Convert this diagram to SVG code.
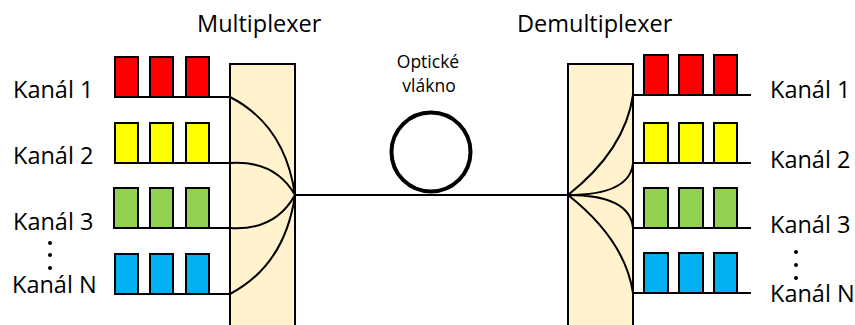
<svg xmlns="http://www.w3.org/2000/svg" width="855" height="325" viewBox="0 0 855 325">
<style>
.t{font-family:"Open Sans","Liberation Sans",sans-serif;font-size:23.5px;fill:#000}
.s{font-size:17.5px}
.box{stroke:#000;stroke-width:2}
.r{fill:#FF0000}.y{fill:#FFFF00}.g{fill:#92D050}.b{fill:#00B0F0}
.mux{fill:#FFF2CC;stroke:#000;stroke-width:2}
.ln{fill:none;stroke:#000;stroke-width:2}
.dot{fill:#000}
</style>
<rect width="855" height="325" fill="#fff"/>
<g id="multiplexer">
<rect class="mux" x="230" y="64" width="65" height="270"/>
<text class="t" x="197" y="32">Multiplexer</text>
</g>
<g id="demultiplexer">
<rect class="mux" x="568" y="64" width="65" height="270"/>
<text class="t" x="517" y="32">Demultiplexer</text>
</g>
<g id="fiber">
<circle cx="431" cy="152" r="39.5" fill="none" stroke="#000" stroke-width="4"/>
<text class="t s" x="428" y="68" text-anchor="middle">Optické</text>
<text class="t s" x="429" y="92" text-anchor="middle">vlákno</text>
</g>
<g id="in-ch1">
<rect class="box r" x="115" y="57" width="23" height="40"/>
<rect class="box r" x="150" y="57" width="23" height="40"/>
<rect class="box r" x="186" y="57" width="23" height="40"/>
<text class="t" x="13" y="98">Kanál 1</text>
</g>
<g id="in-ch2">
<rect class="box y" x="115" y="123" width="23" height="40"/>
<rect class="box y" x="150" y="123" width="23" height="40"/>
<rect class="box y" x="186" y="123" width="23" height="40"/>
<text class="t" x="13" y="164">Kanál 2</text>
</g>
<g id="in-ch3">
<rect class="box g" x="114" y="188" width="24" height="40"/>
<rect class="box g" x="150" y="188" width="23" height="40"/>
<rect class="box g" x="186" y="188" width="23" height="40"/>
<text class="t" x="13" y="230">Kanál 3</text>
</g>
<g id="in-chN">
<rect class="box b" x="115" y="254" width="23" height="40"/>
<rect class="box b" x="150" y="254" width="23" height="40"/>
<rect class="box b" x="186" y="254" width="23" height="40"/>
<circle class="dot" cx="50" cy="243" r="2"/>
<circle class="dot" cx="50" cy="255" r="2"/>
<circle class="dot" cx="50" cy="268" r="2"/>
<text class="t" x="12" y="293">Kanál N</text>
</g>
<g id="out-ch1">
<rect class="box r" x="644" y="55" width="24" height="40"/>
<rect class="box r" x="679" y="55" width="24" height="40"/>
<rect class="box r" x="714" y="55" width="23" height="40"/>
<text class="t" x="770" y="98">Kanál 1</text>
</g>
<g id="out-ch2">
<rect class="box y" x="644" y="123" width="24" height="40"/>
<rect class="box y" x="679" y="123" width="24" height="40"/>
<rect class="box y" x="714" y="123" width="23" height="40"/>
<text class="t" x="770" y="168">Kanál 2</text>
</g>
<g id="out-ch3">
<rect class="box g" x="644" y="188" width="24" height="40"/>
<rect class="box g" x="679" y="188" width="24" height="40"/>
<rect class="box g" x="714" y="188" width="23" height="40"/>
<text class="t" x="770" y="233">Kanál 3</text>
</g>
<g id="out-chN">
<rect class="box b" x="644" y="253" width="24" height="40"/>
<rect class="box b" x="679" y="253" width="24" height="40"/>
<rect class="box b" x="714" y="253" width="23" height="40"/>
<circle class="dot" cx="796" cy="252" r="2"/>
<circle class="dot" cx="796" cy="265" r="2"/>
<circle class="dot" cx="796" cy="278" r="2"/>
<text class="t" x="770" y="302">Kanál N</text>
</g>
<g id="connectors">
<path class="ln" d="M115,97H230M115,163H230M114,228H230M115,294H230"/>
<path class="ln" d="M633,95H751M633,163H751M633,228H751M633,293H751"/>
<path class="ln" d="M295,195H568"/>
<path class="ln" d="M230,97Q285,125 295,195M230,163Q275,160 295,195M230,228Q275,231 295,195M230,294Q285,265 295,195"/>
<path class="ln" d="M568,195Q625,150 633,95M568,195Q630,195 633,163M568,195Q630,195 633,228M568,195Q625,240 633,293"/>
</g>
</svg>
